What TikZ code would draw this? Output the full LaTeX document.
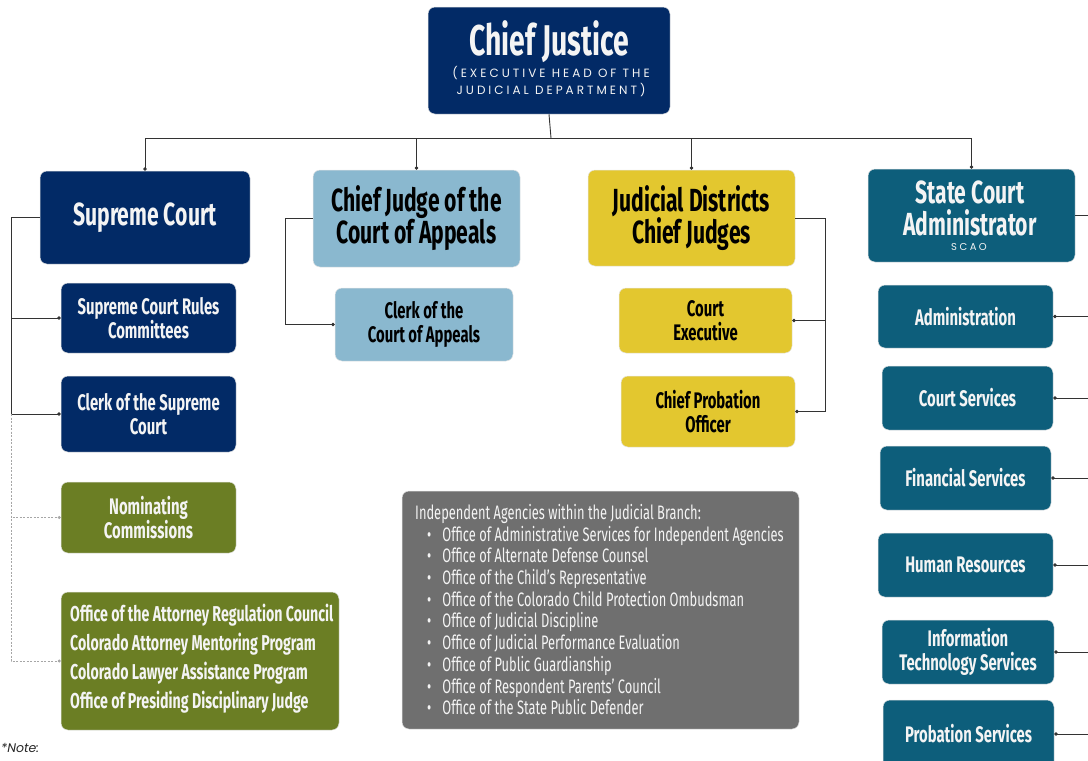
\documentclass[tikz,border=0pt]{standalone}
\usepackage{fontspec}
\usetikzlibrary{arrows.meta}
\newfontfamily\cf{Fira Sans}[FakeStretch=0.66]
\newfontfamily\popf{Poppins}[LetterSpace=25]
\newfontfamily\popn{Poppins}
\definecolor{navy}{HTML}{022A66}
\definecolor{lblue}{HTML}{8AB8CF}
\definecolor{ylw}{HTML}{E3C72F}
\definecolor{teal}{HTML}{0D5E7B}
\definecolor{olive}{HTML}{6B7E24}
\definecolor{gbox}{HTML}{6F6F6F}
\definecolor{lnc}{HTML}{333333}
\definecolor{txtw}{HTML}{F4F4F4}
\newcommand\fTitle{\fontsize{43}{45}\selectfont\cf\bfseries}
\newcommand\fBigT{\fontsize{32}{32}\selectfont\cf\bfseries}
\newcommand\fSubT{\fontsize{22.5}{24.5}\selectfont\cf\bfseries}
\newcommand\fListT{\fontsize{21.5}{29}\selectfont\cf\bfseries}
\newcommand\fGrayT{\fontsize{19.5}{21.7}\selectfont\cf}
\newcommand\fCapT{\fontsize{12}{17}\selectfont\popf}
\begin{document}
\begin{tikzpicture}[x=1pt,y=-1pt,
  box/.style={rounded corners=7pt, inner sep=0pt, align=center, draw=white!80!gray, line width=0.5pt},
  navyb/.style={box, fill=navy, text=txtw},
  blueb/.style={box, fill=lblue, text=black},
  ylwb/.style={box, fill=ylw, text=black},
  tealb/.style={box, fill=teal, text=txtw},
  oliveb/.style={box, fill=olive, text=txtw},
  grayb/.style={box, fill=gbox, text=txtw},
  conn/.style={draw=lnc, line width=0.9pt},
  arr/.style={conn, -{Circle[length=3.5pt]}},
  darr/.style={draw=gray!70, line width=0.8pt, dash pattern=on 2pt off 1.5pt, -{Circle[length=3pt]}},
]
\useasboundingbox (0,0) rectangle (1088,761);

% Chief Justice
\node[navyb, minimum width=242, minimum height=107] (cj) at (549,60.5) {};
\node[text=txtw, font=\fTitle, inner sep=0] (cjt) at (549,42) {Chief Justice};
\node[text=txtw, font=\fCapT, align=center, inner sep=0] (cjs) at (551,82) {(EXECUTIVE HEAD OF THE\\JUDICIAL DEPARTMENT)};

% Level 2
\node[navyb, minimum width=210, minimum height=93, font=\fBigT] (sc) at (145,217.5) {Supreme Court};
\node[blueb, minimum width=207, minimum height=97, font=\fBigT] (coa) at (416.5,218.5) {Chief Judge of the\\Court of Appeals};
\node[ylwb, minimum width=207, minimum height=96, font=\fBigT] (jd) at (691.5,218) {Judicial Districts\\Chief Judges};
\node[tealb, minimum width=207, minimum height=93] (sca) at (971.5,215.5) {};
\node[text=txtw, font=\fBigT, align=center, inner sep=0] (scat) at (970,208) {State Court\\Administrator};
\node[text=txtw, font=\fontsize{10}{11}\selectfont\popf, inner sep=0] (scas) at (969,247) {SCAO};

% bus
\coordinate (bus) at (551,138);
\draw[conn] (cj.south) -- (bus);
\draw[arr] (bus) -| (sc.north);
\draw[arr] (bus) -| (coa.north);
\draw[arr] (bus) -| (jd.north);
\draw[arr] (bus) -| (sca.north);

% Supreme Court children
\node[navyb, minimum width=175, minimum height=70, font=\fSubT] (rules) at (148.5,318) {Supreme Court Rules\\Committees};
\node[navyb, minimum width=175, minimum height=76, font=\fSubT] (clerk) at (148.5,414) {Clerk of the Supreme\\Court};
\node[oliveb, minimum width=175, minimum height=71, font=\fSubT] (nom) at (148.5,517.5) {Nominating\\Commissions};
\node[oliveb, minimum width=278, minimum height=138] (off) at (200,661) {};
\node[text=txtw, font=\fListT, align=left, inner sep=0, anchor=west] (offt) at (70,659) {Office of the Attorney Regulation Council\\Colorado Attorney Mentoring Program\\Colorado Lawyer Assistance Program\\Office of Presiding Disciplinary Judge};

\coordinate (lx) at (11,0);
\draw[conn] (sc.west) -- (sc.west -| lx) -- (clerk.west -| lx);
\draw[arr] (rules.west -| lx) -- (rules.west);
\draw[arr] (clerk.west -| lx) -- (clerk.west);
\draw[darr] (clerk.west -| lx) |- (nom.west);
\draw[darr] (clerk.west -| lx) |- (off.west);

% Court of Appeals child
\node[blueb, minimum width=178, minimum height=73, font=\fSubT] (cclerk) at (424,324.5) {Clerk of the\\Court of Appeals};
\coordinate (cx) at (285,0);
\draw[arr] (coa.west) -- (coa.west -| cx) |- (cclerk.west);

% Judicial districts children
\node[ylwb, minimum width=173, minimum height=65, font=\fSubT] (ce) at (705.5,320.5) {Court\\Executive};
\node[ylwb, minimum width=174, minimum height=71, font=\fSubT] (cpo) at (708,411.5) {Chief Probation\\Officer};
\coordinate (jx) at (825,0);
\draw[conn] (jd.east) -- (jd.east -| jx) -- (cpo.east -| jx);
\draw[arr] (ce.east -| jx) -- (ce.east);
\draw[arr] (cpo.east -| jx) -- (cpo.east);

% SCAO children
\node[tealb, minimum width=175, minimum height=63, font=\fSubT] (adm) at (965.5,316.5) {Administration};
\node[tealb, minimum width=171, minimum height=64, font=\fSubT] (cs) at (967.5,398) {Court Services};
\node[tealb, minimum width=171, minimum height=64, font=\fSubT] (fs) at (965.5,478) {Financial Services};
\node[tealb, minimum width=175, minimum height=64, font=\fSubT] (hr) at (965.5,565) {Human Resources};
\node[tealb, minimum width=172, minimum height=64, font=\fSubT] (it) at (968,652) {Information\\Technology Services};
\node[tealb, minimum width=171, minimum height=68, font=\fSubT] (ps) at (968.5,734) {Probation Services};
\coordinate (sx) at (1100,0);
\draw[conn] (sca.east) -- (sca.east -| sx) -- (ps.east -| sx);
\foreach \n in {adm,cs,fs,hr,it,ps}{\draw[arr] (\n.east -| sx) -- (\n.east);}

% Independent agencies
\node[grayb, minimum width=397, minimum height=238] (ind) at (600.5,610) {};
\node[text=txtw, font=\fGrayT, align=left, inner sep=0, anchor=north west] (indt) at (415,504) {Independent Agencies within the Judicial Branch:\\
\hspace*{12pt}\textbullet\hspace{11pt}Office of Administrative Services for Independent Agencies\\
\hspace*{12pt}\textbullet\hspace{11pt}Office of Alternate Defense Counsel\\
\hspace*{12pt}\textbullet\hspace{11pt}Office of the Child’s Representative\\
\hspace*{12pt}\textbullet\hspace{11pt}Office of the Colorado Child Protection Ombudsman\\
\hspace*{12pt}\textbullet\hspace{11pt}Office of Judicial Discipline\\
\hspace*{12pt}\textbullet\hspace{11pt}Office of Judicial Performance Evaluation\\
\hspace*{12pt}\textbullet\hspace{11pt}Office of Public Guardianship\\
\hspace*{12pt}\textbullet\hspace{11pt}Office of Respondent Parents’ Council\\
\hspace*{12pt}\textbullet\hspace{11pt}Office of the State Public Defender};

% Note
\node[anchor=west, inner sep=0, font=\fontsize{12.5}{13}\selectfont\popn\itshape, text=black!85] (note) at (1,748) {*Note:};
\end{tikzpicture}
\end{document}
